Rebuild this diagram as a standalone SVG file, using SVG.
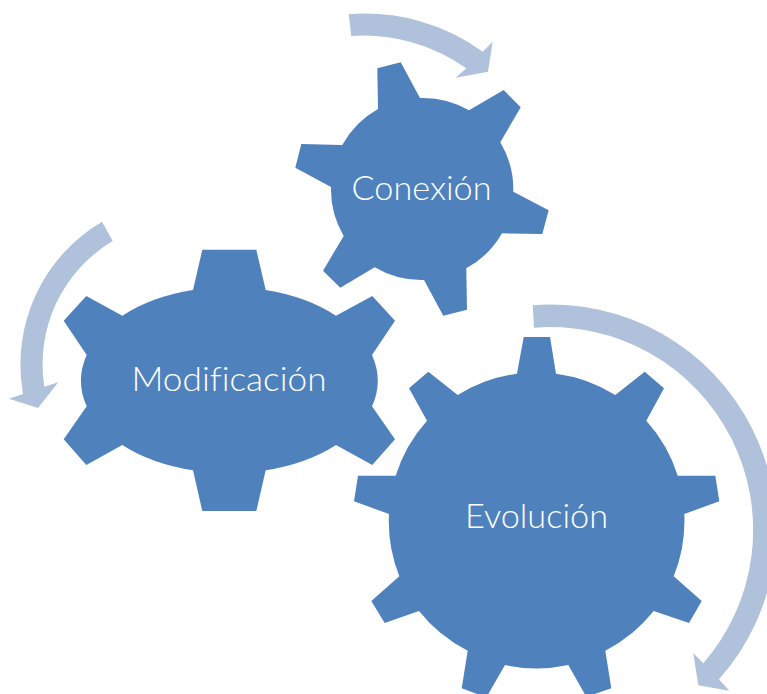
<svg xmlns="http://www.w3.org/2000/svg" width="767" height="694" viewBox="0 0 767 694">
<style>
.gear{fill:#4f81bd}
.arrow{fill:#b0c1dc}
.label{font-family:"Lato","Liberation Sans",sans-serif;font-size:34px;font-weight:300;fill:#fff;text-anchor:middle;font-variant-ligatures:none}
</style>
<rect width="767" height="694" fill="#fff"/>
<g id="connectors">
<path class="arrow" d="M348.7 14.3A200 200 0 0 1 482.7 51.7L492.7 41.7L488 71.7L455.7 77.7L466.3 68.3A178 178 0 0 0 351.3 36Z"/>
<path class="arrow" d="M102 221.7A166 166 0 0 0 23 394L9 398.7L38 408L58.300 382.300L44.300 386.700A143.500 143.500 0 0 1 112.700 241Z"/>
<path class="arrow" d="M532.7 305.3A225 225 0 0 1 719 679.3L729.3 690.7L698.3 685.3L693.3 653.3L703.3 663.3A203 203 0 0 0 534 327.7Z"/>
</g>
<g id="node-conexion">
<path class="gear" d="M377.3 68.3L400.7 62.3L420 98A91.500 91.500 0 0 1 469 110.3L503.700 90L520.700 107.300L500.300 142.300A91.500 91.500 0 0 1 513.300 191.700L548.700 210.300L542.300 234L502 233.300A91.500 91.500 0 0 1 466.300 268.300L467 309.700L443.300 315.700L424 280A91.500 91.500 0 0 1 374.700 267.300L340.300 287.700L323 270.700L343.700 236A91.500 91.500 0 0 1 331 187L295.300 167.700L301.300 144L342.300 145A91.500 91.500 0 0 1 378 109Z"/>
<text class="label" x="421.500" y="200" textLength="140" lengthAdjust="spacingAndGlyphs">Conexión</text>
</g>
<g id="node-modificacion">
<path class="gear" d="M193 290L202.300 249.700L256.300 249.700L265.700 290A148.300 93.500 0 0 1 336 315.700L372.300 296L395 320.700L372 355A148.300 93.500 0 0 1 372 406.300L395 439.300L372.300 465L336 445A148.300 93.500 0 0 1 265.700 470.300L256.300 511L202.300 511L193 470.300A148.300 93.500 0 0 1 122.300 445L86.300 465L63.700 439.300L86.700 406.300A148.300 93.500 0 0 1 86.700 355L63.700 320.700L86.300 296L122.300 315.700A148.300 93.500 0 0 1 193 290Z"/>
<text class="label" x="229" y="391" textLength="195" lengthAdjust="spacingAndGlyphs">Modificación</text>
</g>
<g id="node-evolucion">
<path class="gear" d="M517 373.700L523.700 337L550 337L556 373.700A148 148 0 0 1 615.300 395L644.700 371.700L664 388.300L646.300 420.700A148 148 0 0 1 677.700 475.700L715.300 475.700L719.300 501.300L684.300 514A148 148 0 0 1 673.700 576.300L701.700 601L689 623L653.700 611A148 148 0 0 1 605.300 650.700L611.300 688.300L583 698L587 698L568.300 665A148 148 0 0 1 505 665L486 698L488 698L461.700 688.300L467.700 650.700A148 148 0 0 1 419 611L384.700 623L371.300 601L399.300 576.300A148 148 0 0 1 389 514L354 501.300L358 475.700L395.700 475.700A148 148 0 0 1 427 420.700L409 388.300L428.300 371.700L457.700 395A148 148 0 0 1 517 373.700Z"/>
<text class="label" x="536.500" y="527.700" textLength="143" lengthAdjust="spacingAndGlyphs">Evolución</text>
</g>
</svg>
